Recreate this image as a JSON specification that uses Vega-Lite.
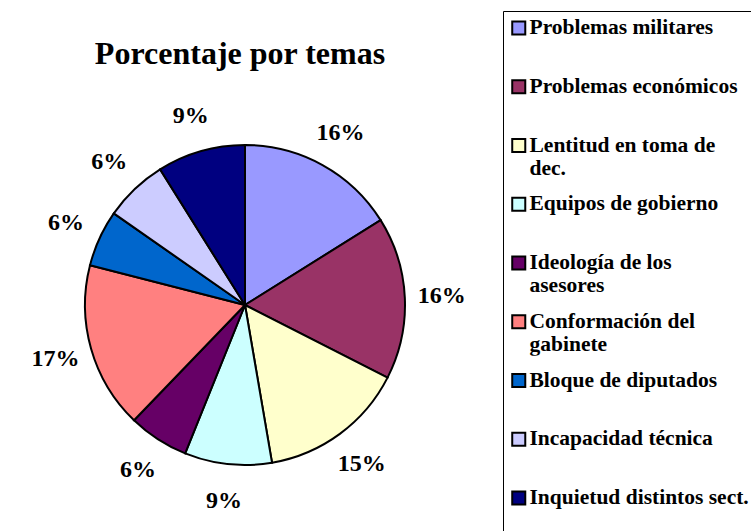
{
  "$schema": "https://vega.github.io/schema/vega-lite/v6.json",
  "width": 494,
  "height": 588,
  "padding": {"left": 9, "top": 10, "right": 0, "bottom": 0},
  "autosize": {"type": "pad"},
  "background": "white",
  "title": {
    "text": "Porcentaje por temas",
    "font": "Liberation Serif",
    "fontSize": 32,
    "fontWeight": "bold",
    "color": "black",
    "anchor": "middle",
    "offset": -60,
    "dx": -16
  },
  "data": {
    "values": [
      {"n": 1, "tema": "Problemas militares", "valor": 16.1, "etiqueta": "16%"},
      {"n": 2, "tema": "Problemas económicos", "valor": 16.4, "etiqueta": "16%"},
      {"n": 3, "tema": "Lentitud en toma de dec.", "valor": 14.8, "etiqueta": "15%"},
      {"n": 4, "tema": "Equipos de gobierno", "valor": 8.8, "etiqueta": "9%"},
      {"n": 5, "tema": "Ideología de los asesores", "valor": 6.1, "etiqueta": "6%"},
      {"n": 6, "tema": "Conformación del gabinete", "valor": 16.8, "etiqueta": "17%"},
      {"n": 7, "tema": "Bloque de diputados", "valor": 5.7, "etiqueta": "6%"},
      {"n": 8, "tema": "Incapacidad técnica", "valor": 6.4, "etiqueta": "6%"},
      {"n": 9, "tema": "Inquietud distintos sect.", "valor": 8.9, "etiqueta": "9%"}
    ]
  },
  "layer": [
    {
      "mark": {"type": "arc", "outerRadius": 160, "stroke": "black", "strokeWidth": 2, "xOffset": -11},
      "encoding": {
        "theta": {"field": "valor", "type": "quantitative", "stack": true},
        "order": {"field": "n", "type": "quantitative"},
        "color": {
          "field": "tema",
          "type": "nominal",
          "sort": null,
          "scale": {
            "domain": ["Problemas militares", "Problemas económicos", "Lentitud en toma de dec.", "Equipos de gobierno", "Ideología de los asesores", "Conformación del gabinete", "Bloque de diputados", "Incapacidad técnica", "Inquietud distintos sect."],
            "range": ["#9999FF", "#993366", "#FFFFCC", "#CCFFFF", "#660066", "#FF8080", "#0066CC", "#CCCCFF", "#000080"]
          },
          "legend": {
            "title": null,
            "orient": "right",
            "offset": 0,
            "strokeColor": "black",
            "padding": 5,
            "symbolType": "square",
            "symbolSize": 170,
            "symbolStrokeColor": "black",
            "symbolStrokeWidth": 2,
            "symbolOpacity": 1,
            "symbolOffset": 0,
            "labelOffset": 0,
            "labelFont": "Liberation Serif",
            "labelFontSize": 21.5,
            "labelFontWeight": "bold",
            "labelColor": "black",
            "labelLimit": 300,
            "labelBaseline": "middle",
            "rowPadding": 12.75,
            "clipHeight": 46,
            "labelExpr": "datum.label == 'Lentitud en toma de dec.' ? ['Lentitud en toma de', 'dec.'] : datum.label == 'Ideología de los asesores' ? ['Ideología de los', 'asesores'] : datum.label == 'Conformación del gabinete' ? ['Conformación del', 'gabinete'] : datum.label",
            "encode": {
              "entries": {"update": {"width": {"value": 250}, "clip": {"value": true}}},
              "symbols": {"update": {"y": {"value": 12}}},
              "labels": {"update": {"y": {"value": 12}, "lineHeight": {"value": 23}}}
            }
          }
        }
      }
    },
    {
      "mark": {"type": "text", "radius": 197, "font": "Liberation Serif", "fontSize": 24, "fontWeight": "bold", "color": "black", "xOffset": -11},
      "encoding": {
        "theta": {"field": "valor", "type": "quantitative", "stack": true},
        "order": {"field": "n", "type": "quantitative"},
        "text": {"field": "etiqueta", "type": "nominal"}
      }
    }
  ],
  "config": {
    "view": {"stroke": "black", "strokeWidth": 1}
  }
}
